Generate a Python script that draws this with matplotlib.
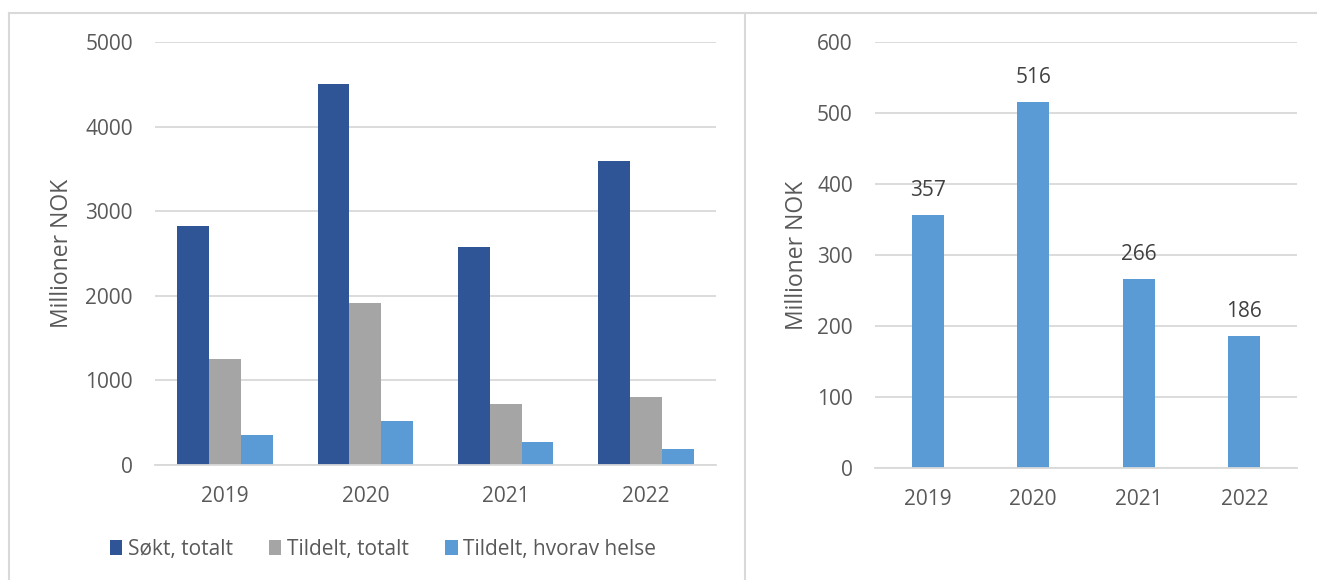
import matplotlib
matplotlib.use('Agg')
import matplotlib.pyplot as plt
import numpy as np
from matplotlib.lines import Line2D

years = ['2019', '2020', '2021', '2022']
sokt_totalt = [2820, 4500, 2580, 3590]
tildelt_totalt = [1250, 1915, 725, 805]
tildelt_helse = [357, 516, 266, 186]

series_names = ['Søkt, totalt', 'Tildelt, totalt', 'Tildelt, hvorav helse']
colors = ['#2F5597', '#A5A5A5', '#5B9BD5']
txt = '#595959'
grid = '#D9D9D9'

plt.rcParams['font.family'] = ['Open Sans', 'DejaVu Sans']

W, H = 1317, 580
fig = plt.figure(figsize=(W / 100, H / 100), dpi=100)

# panel borders
border = '#D9D9D9'
fig.add_artist(Line2D([9 / W, 9 / W], [0, 1 - 13 / H], color=border, lw=1.5, transform=fig.transFigure))
fig.add_artist(Line2D([9 / W, 1], [1 - 13 / H, 1 - 13 / H], color=border, lw=1.5, transform=fig.transFigure))
fig.add_artist(Line2D([745 / W, 745 / W], [0, 1 - 13 / H], color=border, lw=1.5, transform=fig.transFigure))


def style(ax, ymax, step):
    ax.set_ylim(0, ymax)
    ax.set_yticks(np.arange(0, ymax + 1, step))
    ax.yaxis.grid(True, color=grid, lw=1.3)
    ax.set_axisbelow(True)
    for s in ['top', 'right', 'left']:
        ax.spines[s].set_visible(False)
    ax.spines['bottom'].set_color(grid)
    ax.spines['bottom'].set_linewidth(1.3)
    ax.tick_params(axis='both', length=0, colors=txt, labelsize=15)
    ax.tick_params(axis='y', pad=16)
    ax.tick_params(axis='x', pad=15)
    ax.set_ylabel('Millioner NOK', color=txt, fontsize=16.5)


# left chart
ax1 = fig.add_axes([155 / W, 1 - 465 / H, 561 / W, 423 / H])
x = np.arange(len(years))
bw = 0.227
for i, (vals, name) in enumerate(zip([sokt_totalt, tildelt_totalt, tildelt_helse], series_names)):
    ax1.bar(x + (i - 1) * bw, vals, bw, color=colors[i], label=name)
ax1.set_xlim(-0.5, 3.5)
ax1.set_xticks(x)
ax1.set_xticklabels(years)
style(ax1, 5000, 1000)
ax1.yaxis.set_label_coords(-0.145, 0.5)
ax1.legend(loc='upper center', bbox_to_anchor=(0.406, -0.13), ncol=3, frameon=False,
           fontsize=15, labelcolor=txt, handlelength=0.6, handleheight=0.8,
           handletextpad=0.25, columnspacing=1.75)

# right chart
ax2 = fig.add_axes([875 / W, 1 - 468 / H, 422 / W, 426 / H])
ax2.bar(x, tildelt_helse, 0.3, color=colors[2])
ax2.set_xlim(-0.5, 3.5)
ax2.set_xticks(x)
ax2.set_xticklabels(years)
style(ax2, 600, 100)
ax2.yaxis.set_label_coords(-0.157, 0.5)
for xi, v in zip(x, tildelt_helse):
    ax2.annotate(str(v), (xi, v), xytext=(0, 10), textcoords='offset points',
                 ha='center', va='bottom', color='#404040', fontsize=15)

plt.savefig('out.png', dpi=100)
